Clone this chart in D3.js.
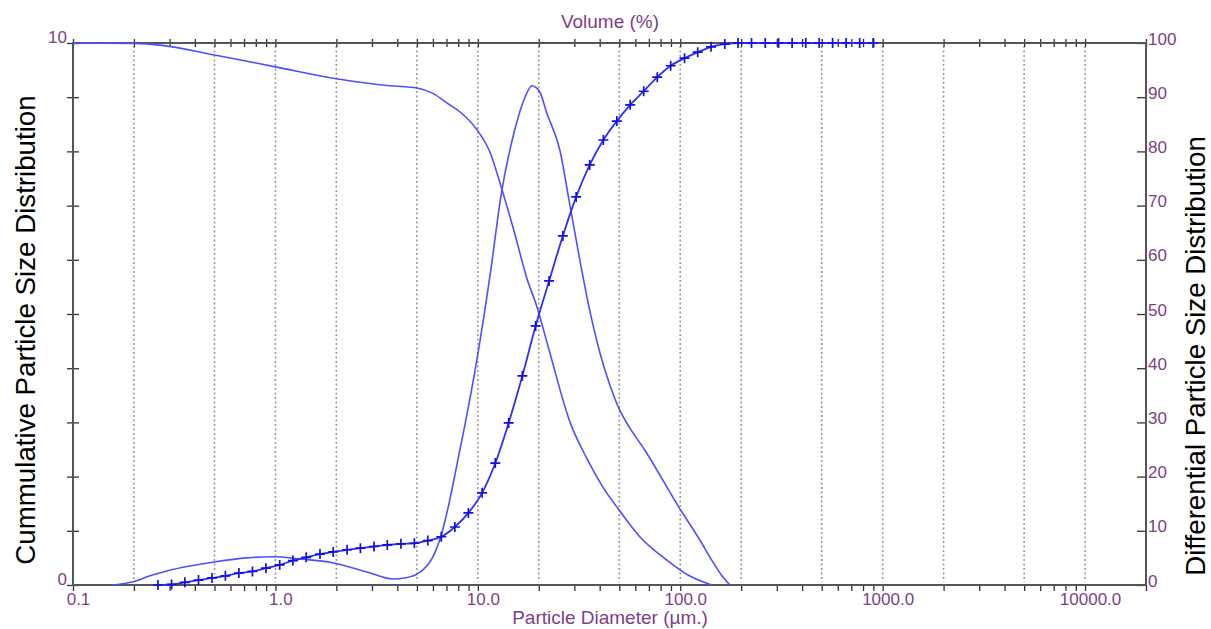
<!DOCTYPE html>
<meta charset="utf-8">
<style>
body { margin: 0; background: #fff; }
svg { display: block; background: #fff; }
.lbl { font-family: "Liberation Sans", Arial, sans-serif; fill: #7d3f86; }
.title { font-family: "Liberation Sans", Arial, sans-serif; fill: #000; font-size: 27.7px; }
.axis text { font-family: "Liberation Sans", Arial, sans-serif; font-size: 17px; fill: #7d3f86; }
.axis line { stroke: #333; stroke-width: 1.3px; }
.axis path { display: none; }
.grid line { stroke: #999; stroke-width: 1.6px; stroke-dasharray: 2,2.5; }
.curve { fill: none; stroke: #4f4fff; stroke-width: 1.6px; }
.cum { fill: none; stroke: #2f2ff5; stroke-width: 1.8px; }
.mark { fill: none; stroke: #1010e0; stroke-width: 1.7px; }
</style>
<body>
<script src="https://d3js.org/d3.v7.min.js"></script>
<script>

// differential distribution (left axis, 0-10)
var diffSize = [0.158,0.198,0.240,0.291,0.378,0.491,0.723,0.972,1.32,1.92,2.83,3.80,4.36,5.00,5.60,6.00,6.64,7.27,7.97,8.63,9.89,11.5,13.1,15.2,17.1,18.5,20.2,21.9,25.4,28.5,31.9,35.7,40.0,44.9,50.2,56.3,66.8,81.9,98.3,125,143,160,176];
var diffValue = [0,0.06,0.17,0.26,0.35,0.42,0.50,0.52,0.48,0.41,0.24,0.11,0.13,0.20,0.35,0.52,0.96,1.57,2.31,2.95,4.15,5.72,7.25,8.39,9.00,9.21,9.10,8.71,8.03,7.01,6.00,5.07,4.30,3.69,3.23,2.90,2.49,1.94,1.44,0.83,0.46,0.18,0];

// cumulative oversize (right axis, %)
var overSize = [0.1,0.2,0.269,0.5,1.0,2.0,3.67,5.0,6.0,7.0,8.4,9.9,11.5,13.1,15.2,17.4,19.6,22.7,28.5,34.5,41.4,50.2,63.1,85.8,111,143];
var overValue = [100,99.9,99.6,97.8,95.6,93.4,92.1,91.7,90.7,89.0,86.9,84.0,79.8,73.2,64.9,56.8,51.3,42.8,30.1,23.4,18.1,13.7,8.9,4.6,1.7,0];

// cumulative undersize with channel markers (right axis, %)
var underSize = [0.263,0.307,0.357,0.417,0.486,0.566,0.660,0.770,0.898,1.05,1.22,1.42,1.66,1.93,2.26,2.63,3.07,3.57,4.17,4.86,5.66,6.60,7.70,8.98,10.5,12.2,14.2,16.6,19.3,22.5,26.3,30.6,35.7,41.7,48.6,56.6,66.0,77.0,89.7,105,122,142,166,193,225,263,306,357,417,486,566,660,770,897];
var underValue = [0,0.1,0.5,0.9,1.3,1.7,2.2,2.5,3.1,3.7,4.5,5.1,5.7,6.1,6.5,6.8,7.1,7.4,7.6,7.7,8.2,8.9,10.7,13.3,17.0,22.5,29.9,38.6,47.8,56.1,64.4,71.6,77.5,82.1,85.6,88.6,91.1,93.7,95.8,97.2,98.3,99.3,99.8,100,100,100,100,100,100,100,100,100,100,100];

var xLabelValues = [0.1, 1, 10, 100, 1000, 10000];
var xLabels = ["0.1", "1.0", "10.0", "100.0", "1000.0", "10000.0"];
var gridValues = [0.2,0.5,1,2,5,10,20,50,100,200,500,1000,2000,5000,10000];
var leftTicks = [0,1,2,3,4,5,6,7,8,9,10];
var rightTicks = [0,10,20,30,40,50,60,70,80,90,100];

var W = 1211, H = 629;
var pLeft = 73, pRight = 1146, pTop = 43, pBottom = 585;

var svg = d3.select("body").append("svg")
	.attr("width", W)
	.attr("height", H);

var x = d3.scaleLog().domain([0.1, 20000]).range([pLeft, pRight]);
var yL = d3.scaleLinear().domain([0, 10]).range([pBottom, pTop]);
var yR = d3.scaleLinear().domain([0, 100]).range([pBottom, pTop]);

// dotted grid
svg.append("g").attr("class", "grid")
	.selectAll("line").data(gridValues).enter().append("line")
	.attr("x1", d => x(d)).attr("x2", d => x(d))
	.attr("y1", pTop + 3).attr("y2", pBottom - 3);

var minor = x.ticks();

// bottom axis
svg.append("g").attr("class", "axis")
	.attr("transform", "translate(0," + pBottom + ")")
	.call(d3.axisBottom(x).tickValues(minor).tickSize(6).tickFormat(""));
svg.append("g").attr("class", "axis")
	.attr("transform", "translate(0," + pBottom + ")")
	.call(d3.axisBottom(x).tickValues(xLabelValues).tickSize(0).tickPadding(0)
		.tickFormat((d, i) => xLabels[i]))
	.selectAll("text").attr("dy", null).attr("y", 20).attr("dx", 5);

// top axis: ticks crossing the line
svg.append("g").attr("class", "axis")
	.attr("transform", "translate(0," + pTop + ")")
	.call(d3.axisTop(x).tickValues(minor).tickSize(4).tickFormat(""))
	.selectAll("line").attr("y1", 4);

// left axis
var la = svg.append("g").attr("class", "axis")
	.attr("transform", "translate(" + pLeft + ",0)")
	.call(d3.axisLeft(yL).tickValues(leftTicks).tickSize(6)
		.tickFormat(d => (d === 0 || d === 10) ? d : ""));
la.selectAll("line").attr("x1", 6);
la.selectAll("text").attr("dy", null).attr("y", -1).attr("x", -6);

// right axis
var ra = svg.append("g").attr("class", "axis")
	.attr("transform", "translate(" + pRight + ",0)")
	.call(d3.axisRight(yR).tickValues(rightTicks).tickSize(-9).tickPadding(2));
ra.selectAll("text").attr("dy", null).attr("y", 1);

// frame
svg.append("rect")
	.attr("x", pLeft).attr("y", pTop)
	.attr("width", pRight - pLeft).attr("height", pBottom - pTop)
	.attr("fill", "none").attr("stroke", "#555").attr("stroke-width", 2);

// curves
var diffLine = d3.line()
	.x((d, i) => x(diffSize[i])).y(d => yL(d))
	.curve(d3.curveMonotoneX);
svg.append("path").attr("class", "curve").attr("d", diffLine(diffValue));

var overLine = d3.line()
	.x((d, i) => x(overSize[i])).y(d => yR(d))
	.curve(d3.curveMonotoneX);
svg.append("path").attr("class", "curve").attr("d", overLine(overValue));

var underLine = d3.line()
	.x((d, i) => x(underSize[i])).y(d => yR(d))
	.curve(d3.curveMonotoneX);
svg.append("path").attr("class", "cum").attr("d", underLine(underValue));

svg.append("g").selectAll("path").data(underValue).enter().append("path")
	.attr("class", "mark")
	.attr("transform", (d, i) => "translate(" + x(underSize[i]) + "," + yR(d) + ")")
	.attr("d", "M-5,0H5M0,-5V5");

// titles
svg.append("text").attr("class", "lbl")
	.attr("x", 610).attr("y", 28)
	.attr("text-anchor", "middle").style("font-size", "19px")
	.text("Volume (%)");

svg.append("text").attr("class", "lbl")
	.attr("x", 610).attr("y", 624)
	.attr("text-anchor", "middle").style("font-size", "19px")
	.text("Particle Diameter (µm.)");

svg.append("text").attr("class", "title")
	.attr("text-anchor", "middle")
	.attr("transform", "translate(35,330) rotate(-90)")
	.text("Cummulative Particle Size Distribution");

svg.append("text").attr("class", "title")
	.attr("text-anchor", "middle")
	.attr("transform", "translate(1205,356) rotate(-90)")
	.text("Differential Particle Size Distribution");

</script>
